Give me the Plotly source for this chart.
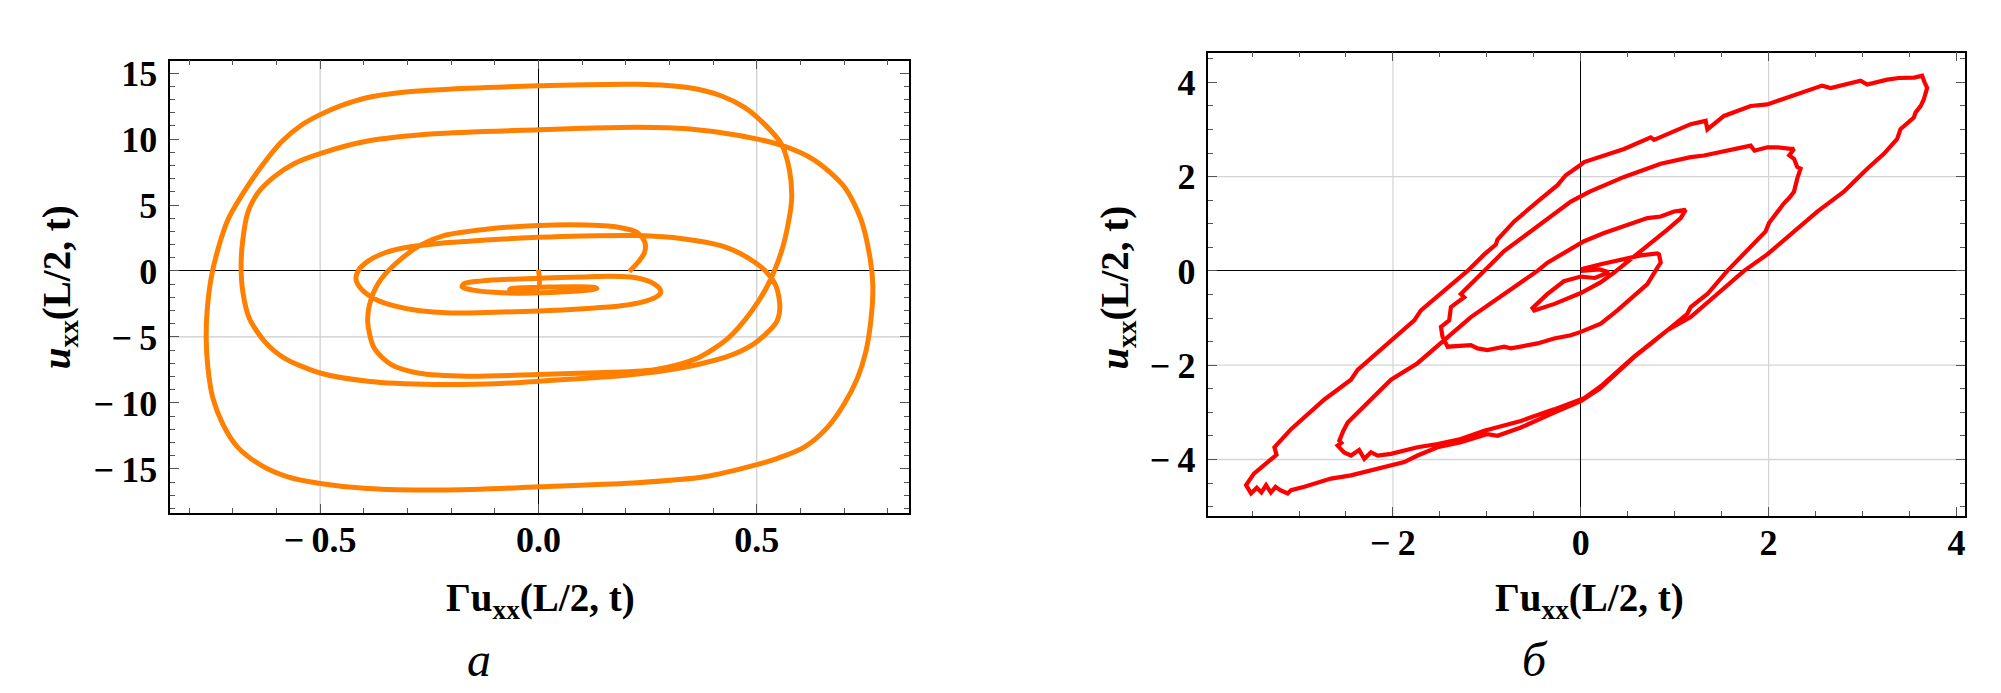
import plotly.graph_objects as go

# page (browser window) size and the default 8px body margin of the written html page
PAGE_W, PAGE_H = 2001, 693
OFF = 8
W, H = PAGE_W - 2 * OFF, PAGE_H - 2 * OFF

# ---------------- Panel a (orange) ----------------
gamma_uxx_a = [0, 0, -0.03, -0.066, -0.05, 0.02, 0.09, 0.125, 0.134, 0.115, 0.05, -0.03, -0.1, -0.15, -0.175,
               -0.17, -0.13, -0.06, 0.0, 0.1, 0.17, 0.22, 0.258, 0.278, 0.28, 0.268, 0.235, 0.19, 0.13, 0.056,
               0.0, -0.1, -0.2, -0.276, -0.33, -0.37, -0.405, -0.418, -0.41, -0.39, -0.35, -0.3, -0.24, -0.16,
               -0.08, 0.0, 0.1, 0.227, 0.33, 0.42, 0.48, 0.52, 0.545, 0.553, 0.545, 0.52, 0.49, 0.44, 0.37,
               0.29, 0.2, 0.1, 0.0,
               -0.085, -0.238, -0.391, -0.5, -0.582, -0.627, -0.662, -0.677, -0.681, -0.677, -0.666, -0.643,
               -0.605, -0.559, -0.5, -0.391, -0.238, 0.0,
               0.1, 0.227, 0.342, 0.456, 0.556, 0.632, 0.7, 0.739, 0.76, 0.766, 0.762, 0.75, 0.731, 0.7, 0.662,
               0.609, 0.548, 0.498, 0.38, 0.227, 0.0,
               -0.085, -0.238, -0.391, -0.5, -0.574, -0.635, -0.689, -0.723, -0.746, -0.757, -0.761, -0.759,
               -0.75, -0.734, -0.711, -0.681, -0.635, -0.589, -0.544, -0.5, -0.452, -0.391, -0.315, -0.162, 0.0,
               0.227, 0.342, 0.418, 0.472, 0.517, 0.556, 0.575, 0.58, 0.571, 0.556, 0.525, 0.487, 0.434, 0.365,
               0.266, 0.113, 0.0,
               -0.162, -0.276, -0.337, -0.376, -0.391, -0.383, -0.36, -0.315, -0.269, -0.215, -0.124, 0.0,
               0.113, 0.189, 0.227, 0.244, 0.243, 0.231, 0.208]
uxx_a = [0.1, -1.25, -1.32, -1.38, -1.28, -1.22, -1.2, -1.24, -1.33, -1.45, -1.6, -1.68, -1.62, -1.45, -1.2,
         -0.95, -0.75, -0.62, -0.55, -0.45, -0.4, -0.5, -0.85, -1.35, -1.65, -2.0, -2.38, -2.63, -2.8, -2.95,
         -3.03, -3.13, -3.18, -3.0, -2.65, -2.2, -1.4, -0.6, 0.15, 0.75, 1.4, 1.8, 2.05, 2.25,
         2.42, 2.55, 2.65, 2.68, 2.45, 1.9, 1.0, 0.0, -1.2, -2.8, -3.9, -4.8, -5.6, -6.4, -7.05,
         -7.55, -7.9, -8.15, -8.35,
         -8.53, -8.6, -8.35, -7.73, -6.6, -5.35, -3.6, -1.6, 0.4, 2.4, 4.4, 5.9,
         7.15, 8.15, 8.9, 9.85, 10.4, 10.7,
         10.82, 10.9, 10.78, 10.28, 9.53, 8.4, 6.4, 3.9, 0.9, -1.1, -3.6, -6.1, -8.1, -10.1, -11.85,
         -13.35, -14.2, -14.7, -15.6, -16.05, -16.35,
         -16.48, -16.6, -16.48, -16.1, -15.6, -14.73, -13.35, -11.6, -9.6, -7.35, -5.1, -3.1,
         -0.6, 1.65, 3.9, 5.65, 7.9, 9.78, 11.03, 11.85, 12.53, 13.15, 13.53, 13.85, 14.03,
         14.15, 13.9, 13.28, 12.4, 11.15, 9.65, 7.65, 5.4, 3.4, 1.4, -1.1, -3.1, -5.1, -6.6,
         -7.48, -7.73, -7.85,
         -7.98, -7.73, -7.1, -5.85, -3.85, -2.1, -0.6, 0.9, 1.98, 2.7, 3.15, 3.45,
         3.48, 3.28, 2.9, 2.15, 1.4, 0.78, -0.05]

# ---------------- Panel b (red) ----------------
gamma_uxx_b = [0.0, 0.2, 0.3, 0.15, 0.0, -0.18, -0.36, -0.514, -0.496, -0.28, 0.0, 0.21, 0.355, 0.48, 0.567,
               0.745, 0.922, 1.064, 1.117, 0.993, 0.851, 0.709, 0.461, 0.248, 0.035, -0.355, -0.461, -0.709,
               -0.816, -1.17, -1.454, -1.738, -2.021, -2.376, -2.482, -2.53, -2.571, -2.55, -2.589,
               -2.52, -2.447, -2.36, -2.305, -2.234, -2.163, -2.021, -1.879, -1.738, -1.525, -1.277, -1.028,
               -0.816, -0.638, -0.284, 0.035,
               0.213, 0.39, 0.567, 0.745, 0.922, 1.17, 1.454, 1.738, 1.986, 2.234, 2.518, 2.801, 3.05, 3.227,
               3.369, 3.404, 3.546, 3.564, 3.62, 3.652, 3.688, 3.66, 3.635,
               3.55, 3.387, 3.262, 3.05, 2.979, 2.66, 2.57, 2.234, 1.986, 1.809, 1.525, 1.348, 1.33, 1.17,
               0.887, 0.78, 0.745, 0.461, 0.035, 0.0,
               -0.16, -0.248, -0.461, -0.709, -0.887, -0.904, -1.028, -1.206, -1.454, -1.702, -1.773, -2.021,
               -2.376, -2.447, -2.73, -3.085, -3.262, -3.24, -3.422, -3.48, -3.564,
               -3.511, -3.45, -3.4, -3.351, -3.3, -3.25, -3.2, -3.121, -3.085, -2.943, -2.837, -2.66, -2.447,
               -2.234, -2.057, -1.879, -1.738, -1.525, -1.277, -0.993, -0.887, -0.638, -0.284, 0.0,
               0.2, 0.39, 0.567, 0.745, 0.922, 1.135, 1.17, 1.348, 1.56, 1.773, 1.968, 2.004, 2.092, 2.128,
               2.163, 2.22, 2.27, 2.305, 2.34, 2.305, 2.27, 2.22, 2.27,
               2.234, 2.092, 1.986, 1.85, 1.809, 1.56, 1.312, 1.17, 0.851, 0.461, 0.089,
               -0.106, -0.461, -0.816, -0.887, -1.028, -1.17, -1.277, -1.241, -1.383, -1.401, -1.489, -1.472,
               -1.418,
               -1.17, -1.099, -0.993, -0.816, -0.745, -0.461, -0.284, -0.106, 0.0,
               0.213, 0.39, 0.603, 0.709, 0.816, 0.851, 0.833, 0.816, 0.638, 0.426, 0.213, 0.0]
uxx_b = [0.0, 0.03, -0.03, -0.15, -0.12, -0.22, -0.5, -0.79, -0.84, -0.7, -0.47, -0.245, -0.035, 0.16, 0.315,
         0.594, 0.874, 1.119, 1.294, 1.259, 1.154, 1.119, 0.944, 0.804, 0.629, 0.175, 0.0, -0.35,
         -0.49, -0.979, -1.469, -1.958, -2.308, -3.007, -3.217, -3.4, -3.601, -3.65, -3.706,
         -3.85, -3.916, -3.8, -3.986, -3.846, -3.916, -3.881, -3.811, -3.741, -3.671, -3.566, -3.392,
         -3.287, -3.182, -2.937, -2.7,
         -2.448, -2.133, -1.818, -1.538, -1.259, -0.979, -0.49, 0.0, 0.35, 0.769, 1.259, 1.678, 2.168, 2.483,
         2.797, 3.007, 3.252, 3.357, 3.5, 3.636, 3.881, 4.0, 4.14,
         4.1, 4.091, 4.056, 3.951, 4.035, 3.88, 3.93, 3.706, 3.531, 3.497, 3.287, 3.0, 3.182, 3.112,
         2.881, 2.78, 2.832, 2.587, 2.308, 2.252,
         2.028, 1.818, 1.469, 1.049, 0.664, 0.559, 0.35, 0.0, -0.42, -0.839, -1.049, -1.469,
         -2.098, -2.308, -2.727, -3.357, -3.741, -3.9, -4.196, -4.3, -4.545,
         -4.72, -4.6, -4.7, -4.545, -4.7, -4.58, -4.65, -4.72, -4.65, -4.58, -4.51, -4.406, -4.336,
         -4.231, -4.161, -4.056, -3.916, -3.741, -3.636, -3.462, -3.497, -3.322, -3.007, -2.762,
         -2.5, -2.15, -1.83, -1.55, -1.27, -0.909, -0.769, -0.49, 0.0, 0.455, 0.839, 1.014, 1.259, 1.364,
         1.434, 1.55, 1.678, 1.958, 2.168, 2.203, 2.378, 2.45, 2.587,
         2.587, 2.622, 2.622, 2.55, 2.657, 2.552, 2.448, 2.413, 2.273, 1.993, 1.678,
         1.469, 0.944, 0.42, 0.28, 0.0, -0.28, -0.49, -0.559, -0.769, -1.049, -1.189, -1.399,
         -1.608,
         -1.573, -1.643, -1.678, -1.608, -1.643, -1.538, -1.434, -1.364, -1.294,
         -1.119, -0.839, -0.455, -0.28, 0.07, 0.175, 0.35, 0.37, 0.33, 0.245, 0.14, 0.035]

# axis values / labels
a_xticks = [-0.5, 0.0, 0.5]
a_yticks = [-15, -10, -5, 0, 5, 10, 15]
a_xgrid = [-0.5, 0.5]
a_ygrid = [-5]
b_xticks = [-2, 0, 2, 4]
b_yticks = [-4, -2, 0, 2, 4]
b_xgrid = [-2, 2]
b_ygrid = [2, -2, -4]

xtitle = "<b>Γu<sub>xx</sub>(L/2, t)</b>"
ytitle = "<b><i>u</i><sub>xx</sub>(L/2, t)</b>"
captions = ["а", "б"]

SERIF = "Liberation Serif"


def tick_text(vals, decimals):
    out = []
    for v in vals:
        s = f"{abs(v):.{decimals}f}"
        out.append(("−\u2009" + s) if v < 0 else s)
    return out


def px(p):  # page x pixel -> paper fraction
    return (p - OFF) / W


def py(p):  # page y pixel (from top) -> paper fraction
    return (H - (p - OFF)) / H


fig = go.Figure()
fig.add_trace(go.Scatter(x=gamma_uxx_a, y=uxx_a, mode="lines",
                         line=dict(color="#FF8000", width=5, shape="spline", smoothing=0.8),
                         xaxis="x", yaxis="y", showlegend=False, hoverinfo="skip"))
fig.add_trace(go.Scatter(x=gamma_uxx_b, y=uxx_b, mode="lines",
                         line=dict(color="#FF0000", width=4.2),
                         xaxis="x2", yaxis="y2", showlegend=False, hoverinfo="skip"))


def ax(domain, rng, tickvals, ticktext, minor_dtick, anchor, standoff):
    return dict(domain=domain, range=rng, anchor=anchor, tickmode="array", tickvals=tickvals,
                ticktext=ticktext, showgrid=False, zeroline=True, zerolinecolor="black", zerolinewidth=1.4,
                showline=True, linecolor="black", linewidth=1.5, mirror="allticks",
                ticks="inside", ticklen=9, tickwidth=1.3, tickcolor="#555",
                minor=dict(ticks="inside", ticklen=5, tickwidth=1.1, tickcolor="#555", dtick=minor_dtick,
                           showgrid=False),
                tickfont=dict(family=SERIF, size=36, color="black", weight="bold"),
                ticklabelstandoff=standoff,
                layer="above traces", fixedrange=True)


# plot areas in page pixels: (left, right, top, bottom)
a_box = (170.3, 909.7, 54.0, 511.3)
b_box = (1209.0, 1965.7, 46.0, 514.0)


def dom(box):
    x0, x1, y0, y1 = box
    return [px(x0), px(x1)], [py(y1), py(y0)]


adx, ady = dom(a_box)
bdx, bdy = dom(b_box)

fig.update_layout(
    width=W, height=H, margin=dict(l=0, r=0, t=0, b=0, pad=0),
    paper_bgcolor="white", plot_bgcolor="white",
    xaxis=ax(adx, [-0.8434, 0.8494], a_xticks, tick_text(a_xticks, 1), 0.1, "y", -6),
    yaxis=ax(ady, [-18.35, 15.95], a_yticks, tick_text(a_yticks, 0), 1, "x", 4),
    xaxis2=ax(bdx, [-3.965, 4.088], b_xticks, tick_text(b_xticks, 0), 0.5, "y2", -6),
    yaxis2=ax(bdy, [-5.194, 4.63], b_yticks, tick_text(b_yticks, 0), 0.5, "x2", 4),
)

shapes = []
for v in a_xgrid:
    shapes.append(dict(type="line", xref="x", yref="y domain", x0=v, x1=v, y0=0, y1=1,
                       line=dict(color="#cccccc", width=1.2), layer="below"))
for v in a_ygrid:
    shapes.append(dict(type="line", xref="x domain", yref="y", x0=0, x1=1, y0=v, y1=v,
                       line=dict(color="#cccccc", width=1.2), layer="below"))
for v in b_xgrid:
    shapes.append(dict(type="line", xref="x2", yref="y2 domain", x0=v, x1=v, y0=0, y1=1,
                       line=dict(color="#d4d4d4", width=1.2), layer="below"))
for v in b_ygrid:
    shapes.append(dict(type="line", xref="x2 domain", yref="y2", x0=0, x1=1, y0=v, y1=v,
                       line=dict(color="#d4d4d4", width=1.6 if v == -4 else 1.2), layer="below"))
fig.update_layout(shapes=shapes)

ann = []
font_t = dict(family=SERIF, size=39, color="black")
# x titles
ann.append(dict(text=xtitle, x=px(541), y=py(600), xref="paper", yref="paper",
                showarrow=False, xanchor="center", yanchor="middle", font=font_t))
ann.append(dict(text=xtitle, x=px(1590), y=py(600), xref="paper", yref="paper",
                showarrow=False, xanchor="center", yanchor="middle", font=font_t))
# y titles
ann.append(dict(text=ytitle, x=px(59), y=py(283), xref="paper", yref="paper", textangle=-90,
                showarrow=False, xanchor="center", yanchor="middle", font=font_t))
ann.append(dict(text=ytitle, x=px(1118), y=py(283), xref="paper", yref="paper", textangle=-90,
                showarrow=False, xanchor="center", yanchor="middle", font=font_t))
# captions
ann.append(dict(text="<i>" + captions[0] + "</i>", x=px(479), y=py(659), xref="paper", yref="paper",
                showarrow=False, xanchor="center", yanchor="middle",
                font=dict(family=SERIF, size=48, color="black")))
ann.append(dict(text="<i>" + captions[1] + "</i>", x=px(1536), y=py(659), xref="paper", yref="paper",
                showarrow=False, xanchor="center", yanchor="middle",
                font=dict(family=SERIF, size=48, color="black")))
fig.update_layout(annotations=ann)

fig.write_html("out.html", config={"displayModeBar": False})
